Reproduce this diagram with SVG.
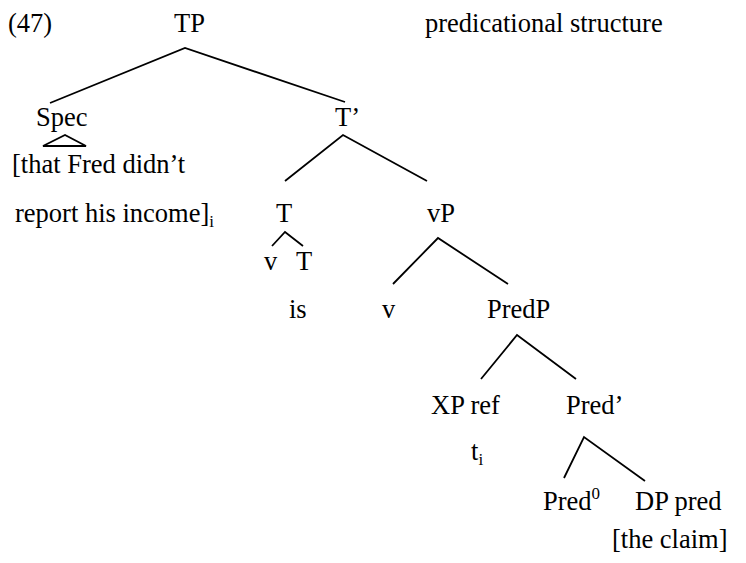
<svg xmlns="http://www.w3.org/2000/svg" width="746" height="563" viewBox="0 0 746 563">
<style>
text{font-family:"Liberation Serif","Times New Roman",serif;font-size:26.5px;fill:#000}
.s{font-size:17px}
.e{stroke:#000;stroke-width:1.8;fill:none;stroke-linecap:butt}
</style>
<rect width="746" height="563" fill="#fff"/>
<text x="8" y="32">(47)</text>
<text x="425" y="32">predicational structure</text>
<g id="connectors">
<path class="e" d="M50,103 L185,48 L345,102"/>
<path class="e" d="M43,146 L65,135 L86,146 Z"/>
<path class="e" d="M285,181 L343,135 L427,181"/>
<path class="e" d="M272,246 L285,232 L303,246"/>
<path class="e" d="M393,284 L438,238 L508,284"/>
<path class="e" d="M481,379 L517,335 L576,379"/>
<path class="e" d="M564,478 L584,437 L645,481"/>
</g>
<g id="TP"><text x="174" y="32">TP</text></g>
<g id="Spec"><text x="36" y="126">Spec</text></g>
<g id="SpecContent"><text x="12" y="173">[that Fred didn’t</text><text x="15" y="222">report his income]<tspan class="s" dy="5">i</tspan></text></g>
<g id="Tbar"><text x="335" y="126">T’</text></g>
<g id="T"><text x="276" y="222">T</text></g>
<g id="vP"><text x="427" y="222">vP</text></g>
<g id="v1"><text x="264" y="270">v</text></g>
<g id="T2"><text x="296" y="270">T</text></g>
<g id="is"><text x="289" y="318">is</text></g>
<g id="v2"><text x="382" y="318">v</text></g>
<g id="PredP"><text x="487" y="318">PredP</text></g>
<g id="XPref"><text x="431" y="414">XP ref</text></g>
<g id="ti"><text x="471" y="460">t<tspan class="s" dy="5">i</tspan></text></g>
<g id="Predbar"><text x="566" y="414">Pred’</text></g>
<g id="Pred0"><text x="543" y="510">Pred<tspan class="s" dy="-11">0</tspan></text></g>
<g id="DPpred"><text x="635" y="510">DP pred</text><text x="612" y="548">[the claim]</text></g>
</svg>
